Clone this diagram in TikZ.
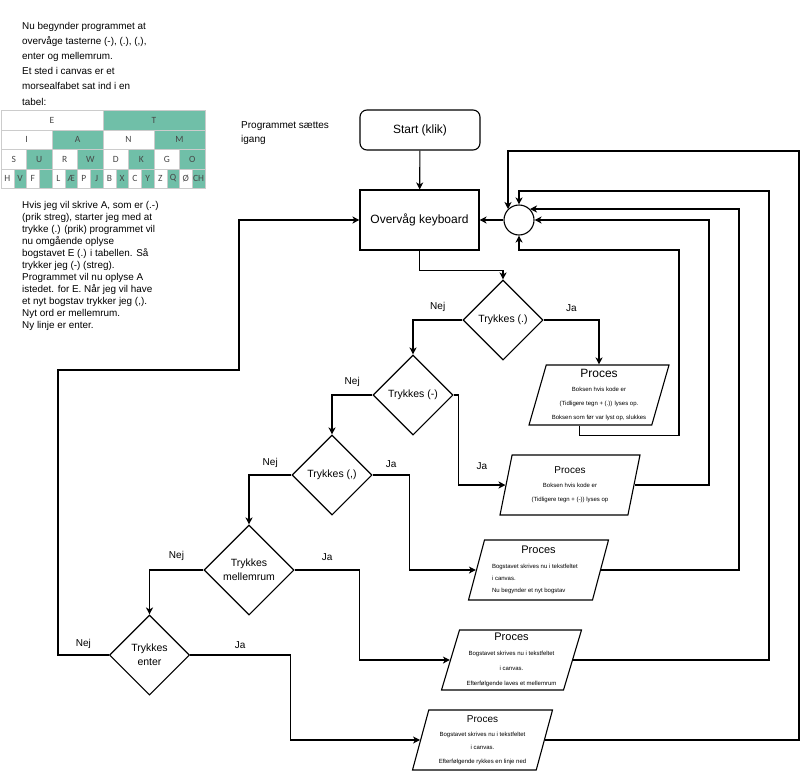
\documentclass[tikz,border=0pt]{standalone}
\usepackage{fontspec}
\setmainfont{Liberation Sans}
\newfontfamily\tabfont{Carlito}
\usepackage{tikz}
\usetikzlibrary{shapes.geometric}
\usetikzlibrary{arrows.meta}
\usetikzlibrary{positioning}
\tikzset{>={Stealth[length=7pt,width=7pt,inset=2pt]}}
\definecolor{morsegreen}{RGB}{112,191,168}
\tikzset{
    flow/.style={line width=1.1pt, ->},
    box/.style={draw, line width=1.1pt, minimum width=119pt, minimum height=60pt, font=\fontsize{12}{14}\selectfont},
    decision/.style={draw, diamond, aspect=1, line width=1.1pt, minimum width=80pt, minimum height=80pt, inner sep=1pt, align=center, font=\fontsize{10.5}{14}\selectfont},
    proc/.style={draw, trapezium, trapezium left angle=71.5, trapezium right angle=108.5, trapezium stretches body, minimum width=140pt, minimum height=60pt, inner sep=0pt, line width=1.1pt, align=center, font=\fontsize{6}{14}\selectfont},
    lbl/.style={font=\fontsize{10}{12}\selectfont},
    note/.style={align=left, anchor=north west, inner sep=0pt},
    celltext/.style={font=\tabfont\fontsize{9.5}{10}\selectfont, text=black!72}
}

\begin{document}
\begin{tikzpicture}[x=1pt, y=-1pt]
    \useasboundingbox (0,0) rectangle (808,771);
    \node[note, font=\fontsize{9.9}{15.2}\selectfont] (intro) at (22,21.8) {Nu begynder programmet at\\overvåge tasterne (-), (.), (,),\\enter og mellemrum.\\Et sted i canvas er et\\morsealfabet sat ind i en\\tabel:};
    \foreach \r/\yt/\yb/\letters in {1/110/130/{E,T}, 2/130/149/{I,A,N,M}, 3/149/169/{S,U,R,W,D,K,G,O}, 4/169/188/{H,V,F,{},L,Æ,P,J,B,X,C,Y,Z,Q,Ø,CH}}{
        \pgfmathsetmacro\w{204/(2^\r)}
        \foreach \t [count=\i from 0] in \letters {
            \ifodd\i \def\cc{morsegreen}\else \def\cc{white}\fi
            \filldraw[fill=\cc, draw=black!20, line width=0.5pt] (1+\i*\w,\yt) rectangle (1+\i*\w+\w,\yb);
            \node[celltext] at (1+\i*\w+\w/2,{(\yt+\yb)/2}) {\t};
        }
    }
    \node[note, font=\fontsize{9.9}{12}\selectfont] (howto) at (22,201.3) {Hvis jeg vil skrive A, som er (.-)\\(prik streg), starter jeg med at\\trykke (.) (prik) programmet vil\\nu omgående oplyse\\bogstavet E (.) i tabellen. Så\\trykker jeg (-) (streg).\\Programmet vil nu oplyse A\\istedet. for E. Når jeg vil have\\et nyt bogstav trykker jeg (,).\\Nyt ord er mellemrum.\\Ny linje er enter.};
    \node[note, font=\fontsize{10}{14}\selectfont] (startnote) at (241,121.3) {Programmet sættes\\igang};

    \node[box, rounded corners=7pt, minimum width=120pt, minimum height=40pt] (start) at (420,130) {Start (klik)};
    \node[box] (ovk) at (419.5,220) {Overvåg keyboard};
    \node[draw, circle, line width=1.1pt, minimum size=30pt, inner sep=0pt] (mrg) at (519,220) {};

    \node[decision] (d1) at (503,320) {Trykkes (.)};
    \node[decision] (d2) at (413,395) {Trykkes (-)};
    \node[decision] (d3) at (332,475) {Trykkes (,)};
    \node[decision, minimum width=90pt, minimum height=90pt] (d4) at (249,570) {Trykkes\\mellemrum};
    \node[decision] (d5) at (149.5,655) {Trykkes\\enter};

    \node[proc] (p1) at (599,395) {{\fontsize{12}{14}\selectfont Proces}\\Boksen hvis kode er\\(Tidligere tegn + (.)) lyses op.\\Boksen som før var lyst op, slukkes};
    \node[proc] (p2) at (570,485) {{\fontsize{10}{14}\selectfont Proces}\\Boksen hvis kode er\\(Tidligere tegn + (-)) lyses op};
    \node[proc, align=left, font=\fontsize{6}{12}\selectfont] (p3) at (538.5,570) {\makebox[93pt]{\fontsize{11}{12}\selectfont Proces}\\[3pt]Bogstavet skrives nu i tekstfeltet\\i canvas.\\Nu begynder et nyt bogstav};
    \node[proc, font=\fontsize{6}{15}\selectfont] (p4) at (511.5,660) {{\fontsize{11}{15}\selectfont Proces}\\Bogstavet skrives nu i tekstfeltet\\i canvas.\\Efterfølgende laves et mellemrum};
    \node[proc, font=\fontsize{6}{13.5}\selectfont] (p5) at (482.5,740) {{\fontsize{10}{13.5}\selectfont Proces}\\Bogstavet skrives nu i tekstfeltet\\i canvas.\\Efterfølgende rykkes en linje ned};

    \coordinate (back) at (239,370);
    \coordinate (r1) at (679,250);
    \coordinate (r2) at (709,220);
    \coordinate (r3) at (739,0);
    \coordinate (r4) at (769,191);
    \coordinate (r5) at (799,151);

    \draw[flow] (start) -- (ovk);
    \draw[flow] (mrg) -- (ovk);
    \draw[flow] (ovk.south) -- ++(0,20) -| (d1.north);
    \draw[flow] (d1.east) -| node[lbl, pos=.25, above=5pt]{Ja} (p1 |- p1.top side);
    \draw[flow] (d1.west) -| node[lbl, pos=.25, above=5pt]{Nej} (d2.north);
    \draw[flow] (d2.east) -- ++(5,0) |- node[lbl, pos=.75, above=12pt]{Ja} (p2.left side);
    \draw[flow] (d2.west) -| node[lbl, pos=.25, above=5pt]{Nej} (d3.north);
    \draw[flow] (d3.east) -- node[lbl, above=4pt]{Ja} ++(37,0) |- (p3.left side);
    \draw[flow] (d3.west) -| node[lbl, pos=.25, above=4pt]{Nej} (d4.north);
    \draw[flow] (d4.east) -- node[lbl, above=6pt]{Ja} ++(65,0) |- (p4.left side);
    \draw[flow] (d4.west) -| node[lbl, pos=.25, above=6pt]{Nej} (d5.north);
    \draw[flow] (d5.east) -- node[lbl, above=3pt]{Ja} ++(100,0) |- (p5.left side);
    \draw[flow] (d5.west) -- node[lbl, above=3pt]{Nej} ++(-51,0) |- (back) |- (ovk.west);

    \draw[flow] ([xshift=-11pt]p1.bottom side) -- ++(0,10) -| (r1) -| (mrg.south);
    \draw[flow] (p2.right side) -| (r2) -- (mrg.east);
    \draw[flow] (p3.right side) -| (r3 |- mrg.north east) -- (mrg.north east);
    \draw[flow] (p4.right side) -| (r4) -| (mrg.north);
    \draw[flow] (p5.right side) -| (r5) -| (mrg.north west);
\end{tikzpicture}
\end{document}
